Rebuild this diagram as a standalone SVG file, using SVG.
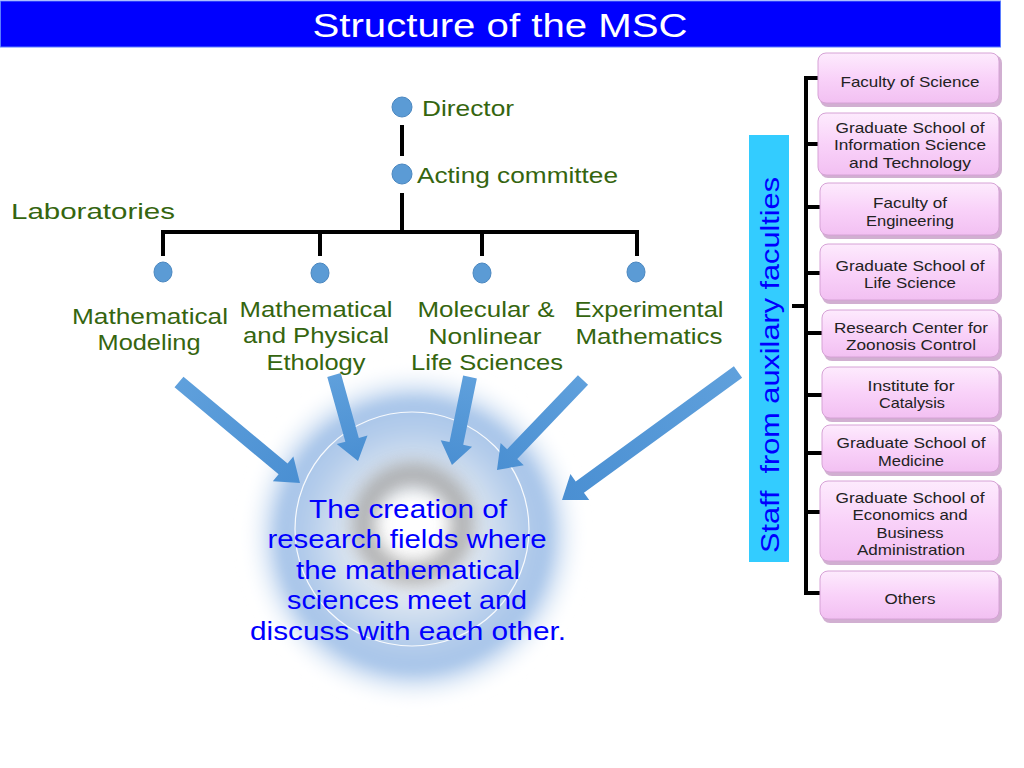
<svg xmlns="http://www.w3.org/2000/svg" width="1024" height="768" viewBox="0 0 1024 768">
<defs>
<style>
.green{font-family:"Liberation Sans",Arial,sans-serif;fill:#35650f;font-size:22px;}
.lab{text-anchor:middle;}
.box{fill:url(#pink);stroke:#d6a2d6;stroke-width:1;}
.shadow{fill:#b27ab2;opacity:0.6;}
.bt{font-family:"Liberation Sans",Arial,sans-serif;font-size:15px;fill:#222;text-anchor:middle;}
.ln{stroke:#000;stroke-width:4;fill:none;}
.dot{fill:#5b9bd5;stroke:#4a87c0;stroke-width:1;}
.arrow{fill:url(#arr);}
.ct{font-family:"Liberation Sans",Arial,sans-serif;font-size:25px;fill:#0000ff;text-anchor:middle;}
</style>
<linearGradient id="pink" x1="0" y1="0" x2="0" y2="1">
<stop offset="0" stop-color="#fdebfd"/>
<stop offset="0.5" stop-color="#f9d2f9"/>
<stop offset="1" stop-color="#f2c0f2"/>
</linearGradient>
<linearGradient id="arr" x1="0" y1="0" x2="1" y2="0">
<stop offset="0" stop-color="#5fa0dc"/>
<stop offset="1" stop-color="#4a8fd2"/>
</linearGradient>
<radialGradient id="glow" cx="0.5" cy="0.5" r="0.5">
<stop offset="0" stop-color="#ffffff"/>
<stop offset="0.2" stop-color="#ffffff"/>
<stop offset="0.4" stop-color="#d9e4f1"/>
<stop offset="0.62" stop-color="#b5cdeb"/>
<stop offset="0.78" stop-color="#a6c4e9"/>
<stop offset="1" stop-color="#ffffff" stop-opacity="0"/>
</radialGradient>
<filter id="blur" x="-20%" y="-20%" width="140%" height="140%"><feGaussianBlur stdDeviation="6"/></filter>
<filter id="blur2" x="-50%" y="-50%" width="200%" height="200%"><feGaussianBlur stdDeviation="9"/></filter>
</defs>
<rect width="1024" height="768" fill="#ffffff"/>

<g id="title">
<rect x="0.5" y="1" width="1000" height="46" fill="#0000ff" stroke="#5a7cff" stroke-width="1"/>
<text x="500" y="37" font-family="Liberation Sans,Arial,sans-serif" font-size="34" fill="#ffffff" text-anchor="middle" textLength="375" lengthAdjust="spacingAndGlyphs">Structure of the MSC</text>
</g>

<g id="center-glow">
<circle cx="414" cy="536" r="172" fill="url(#glow)" filter="url(#blur)"/>
<circle cx="413" cy="524" r="50" fill="none" stroke="#a0a0a0" stroke-width="22" filter="url(#blur2)" opacity="0.85"/>
<circle cx="412" cy="529" r="117" fill="none" stroke="#ffffff" stroke-width="1.2" opacity="0.9"/>
</g>

<g id="connectors">
<line class="ln" x1="402" y1="125" x2="402" y2="156"/>
<line class="ln" x1="402" y1="193" x2="402" y2="233"/>
<polyline class="ln" points="163,256 163,232 637,232 637,256"/>
<line class="ln" x1="320" y1="232" x2="320" y2="256"/>
<line class="ln" x1="482" y1="232" x2="482" y2="256"/>
<line class="ln" x1="806" y1="77" x2="806" y2="595"/>
<line class="ln" x1="792" y1="306" x2="806" y2="306"/>
<line class="ln" x1="804" y1="78" x2="820" y2="78"/>
<line class="ln" x1="804" y1="144" x2="820" y2="144"/>
<line class="ln" x1="804" y1="207" x2="820" y2="207"/>
<line class="ln" x1="804" y1="273" x2="820" y2="273"/>
<line class="ln" x1="804" y1="333" x2="822" y2="333"/>
<line class="ln" x1="804" y1="395" x2="822" y2="395"/>
<line class="ln" x1="804" y1="453" x2="822" y2="453"/>
<line class="ln" x1="804" y1="512" x2="820" y2="512"/>
<line class="ln" x1="804" y1="593" x2="820" y2="593"/>
<g id="arrows">
<path class="arrow" transform="translate(179,382) rotate(39.85)" d="M0,-7 L135.6,-7 L135.6,-16 L157.6,0 L135.6,16 L135.6,7 L0,7 Z"/>
<path class="arrow" transform="translate(334,375) rotate(74.4)" d="M0,-7 L67.3,-7 L67.3,-16 L89.3,0 L67.3,16 L67.3,7 L0,7 Z"/>
<path class="arrow" transform="translate(470,377) rotate(101.6)" d="M0,-7 L67.8,-7 L67.8,-16 L89.8,0 L67.8,16 L67.8,7 L0,7 Z"/>
<path class="arrow" transform="translate(583,380) rotate(133.7)" d="M0,-7 L102.5,-7 L102.5,-16 L124.5,0 L102.5,16 L102.5,7 L0,7 Z"/>
<path class="arrow" transform="translate(738,372) rotate(143.97)" d="M0,-7 L195.6,-7 L195.6,-16 L217.6,0 L195.6,16 L195.6,7 L0,7 Z"/>
</g>
</g>

<g id="director">
<circle class="dot" cx="402" cy="107" r="10"/>
<text class="green" x="422" y="116" textLength="92" lengthAdjust="spacingAndGlyphs">Director</text>
</g>
<g id="acting-committee">
<circle class="dot" cx="402" cy="174" r="10"/>
<text class="green" x="417" y="183" textLength="201" lengthAdjust="spacingAndGlyphs">Acting committee</text>
</g>
<g id="laboratories">
<text class="green" x="11" y="219" font-size="24" textLength="164" lengthAdjust="spacingAndGlyphs">Laboratories</text>
</g>

<g id="lab-modeling">
<ellipse class="dot" cx="163" cy="272" rx="9" ry="10"/>
<text class="green lab" x="150" y="324" textLength="156" lengthAdjust="spacingAndGlyphs">Mathematical</text>
<text class="green lab" x="149" y="350" textLength="103" lengthAdjust="spacingAndGlyphs">Modeling</text>
</g>
<g id="lab-ethology">
<ellipse class="dot" cx="320" cy="273" rx="9" ry="10"/>
<text class="green lab" x="316" y="317" textLength="153" lengthAdjust="spacingAndGlyphs">Mathematical</text>
<text class="green lab" x="316" y="343" textLength="146" lengthAdjust="spacingAndGlyphs">and Physical</text>
<text class="green lab" x="316" y="370" textLength="99" lengthAdjust="spacingAndGlyphs">Ethology</text>
</g>
<g id="lab-molecular">
<ellipse class="dot" cx="482" cy="273" rx="9" ry="10"/>
<text class="green lab" x="486" y="317" textLength="137" lengthAdjust="spacingAndGlyphs">Molecular &amp;</text>
<text class="green lab" x="485" y="344" textLength="113" lengthAdjust="spacingAndGlyphs">Nonlinear</text>
<text class="green lab" x="487" y="370" textLength="152" lengthAdjust="spacingAndGlyphs">Life Sciences</text>
</g>
<g id="lab-experimental">
<ellipse class="dot" cx="636" cy="272" rx="9" ry="10"/>
<text class="green lab" x="649" y="317" textLength="149" lengthAdjust="spacingAndGlyphs">Experimental</text>
<text class="green lab" x="649" y="344" textLength="147" lengthAdjust="spacingAndGlyphs">Mathematics</text>
</g>

<g id="goal">
<text class="ct" x="408" y="518" textLength="198" lengthAdjust="spacingAndGlyphs">The creation of</text>
<text class="ct" x="407" y="548" textLength="279" lengthAdjust="spacingAndGlyphs">research fields where</text>
<text class="ct" x="408" y="579" textLength="224" lengthAdjust="spacingAndGlyphs">the mathematical</text>
<text class="ct" x="407" y="609" textLength="240" lengthAdjust="spacingAndGlyphs">sciences meet and</text>
<text class="ct" x="408" y="640" textLength="316" lengthAdjust="spacingAndGlyphs">discuss with each other.</text>
</g>

<g id="staff">
<rect x="749" y="135" width="40" height="427" fill="#33ccff"/>
<text transform="translate(779,365) rotate(-90)" font-family="Liberation Sans,Arial,sans-serif" font-size="26" fill="#0000ff" text-anchor="middle" textLength="376" lengthAdjust="spacingAndGlyphs" xml:space="preserve">Staff  from auxilary faculties</text>
</g>

<g id="fac-science">
<rect class="shadow" x="820" y="55" width="182" height="52" rx="8"/>
<rect class="box" x="818" y="53" width="181" height="50" rx="8"/>
<text class="bt" x="910" y="87" textLength="139" lengthAdjust="spacingAndGlyphs">Faculty of Science</text>
</g>
<g id="fac-info">
<rect class="shadow" x="820" y="115" width="182" height="63" rx="8"/>
<rect class="box" x="818" y="113" width="181" height="62" rx="8"/>
<text class="bt" x="910" y="133" textLength="149" lengthAdjust="spacingAndGlyphs">Graduate School of</text>
<text class="bt" x="910" y="150" textLength="152" lengthAdjust="spacingAndGlyphs">Information Science</text>
<text class="bt" x="910" y="168" textLength="122" lengthAdjust="spacingAndGlyphs">and Technology</text>
</g>
<g id="fac-engineering">
<rect class="shadow" x="822" y="185" width="180" height="54" rx="8"/>
<rect class="box" x="820" y="183" width="179" height="52" rx="8"/>
<text class="bt" x="910" y="208" textLength="74" lengthAdjust="spacingAndGlyphs">Faculty of</text>
<text class="bt" x="910" y="226" textLength="88" lengthAdjust="spacingAndGlyphs">Engineering</text>
</g>
<g id="fac-life">
<rect class="shadow" x="822" y="246" width="180" height="58" rx="8"/>
<rect class="box" x="820" y="244" width="179" height="56" rx="8"/>
<text class="bt" x="910" y="271" textLength="149" lengthAdjust="spacingAndGlyphs">Graduate School of</text>
<text class="bt" x="910" y="288" textLength="92" lengthAdjust="spacingAndGlyphs">Life Science</text>
</g>
<g id="fac-zoonosis">
<rect class="shadow" x="824" y="312" width="178" height="49" rx="8"/>
<rect class="box" x="822" y="310" width="177" height="47" rx="8"/>
<text class="bt" x="911" y="333" textLength="154" lengthAdjust="spacingAndGlyphs">Research Center for</text>
<text class="bt" x="911" y="350" textLength="130" lengthAdjust="spacingAndGlyphs">Zoonosis Control</text>
</g>
<g id="fac-catalysis">
<rect class="shadow" x="824" y="369" width="178" height="53" rx="8"/>
<rect class="box" x="822" y="367" width="177" height="51" rx="8"/>
<text class="bt" x="911" y="391" textLength="87" lengthAdjust="spacingAndGlyphs">Institute for</text>
<text class="bt" x="912" y="408" textLength="66" lengthAdjust="spacingAndGlyphs">Catalysis</text>
</g>
<g id="fac-medicine">
<rect class="shadow" x="824" y="427" width="178" height="49" rx="8"/>
<rect class="box" x="822" y="425" width="177" height="47" rx="8"/>
<text class="bt" x="911" y="448" textLength="149" lengthAdjust="spacingAndGlyphs">Graduate School of</text>
<text class="bt" x="911" y="466" textLength="66" lengthAdjust="spacingAndGlyphs">Medicine</text>
</g>
<g id="fac-economics">
<rect class="shadow" x="822" y="483" width="180" height="82" rx="8"/>
<rect class="box" x="820" y="481" width="179" height="80" rx="8"/>
<text class="bt" x="910" y="503" textLength="149" lengthAdjust="spacingAndGlyphs">Graduate School of</text>
<text class="bt" x="910" y="520" textLength="115" lengthAdjust="spacingAndGlyphs">Economics and</text>
<text class="bt" x="910" y="538" textLength="67" lengthAdjust="spacingAndGlyphs">Business</text>
<text class="bt" x="911" y="555" textLength="108" lengthAdjust="spacingAndGlyphs">Administration</text>
</g>
<g id="fac-others">
<rect class="shadow" x="822" y="573" width="180" height="50" rx="8"/>
<rect class="box" x="820" y="571" width="179" height="48" rx="8"/>
<text class="bt" x="910" y="604" textLength="51" lengthAdjust="spacingAndGlyphs">Others</text>
</g>
</svg>
